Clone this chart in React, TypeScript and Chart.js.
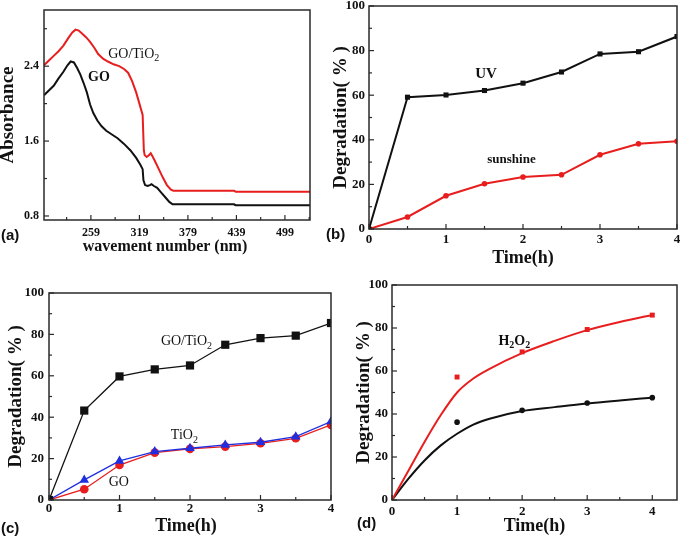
import React, { useEffect, useRef } from 'react';
import { Chart, registerables } from 'chart.js';
Chart.register(...registerables);

const SERIF = '"Liberation Serif", "Times New Roman", Times, serif';
const SANS = '"Liberation Sans", Arial, Helvetica, sans-serif';
const RED = '#e81e1e';
const BLACK = '#111111';
const BLUE = '#1f2fe0';

// ---------- Panel (a): UV-vis absorbance ----------
const wlGO = [201, 207, 213, 219, 225, 230, 234, 238, 242, 246, 250, 254, 258, 262, 267, 272, 278, 285, 292, 300, 308, 315, 320, 323, 324, 326, 329, 332, 334, 337, 341, 346, 351, 356, 360, 380, 400, 420, 436, 438, 460, 490, 530];
const absGO = [2.09, 2.14, 2.19, 2.27, 2.34, 2.41, 2.45, 2.44, 2.38, 2.31, 2.22, 2.12, 1.99, 1.9, 1.82, 1.76, 1.71, 1.67, 1.63, 1.57, 1.5, 1.42, 1.35, 1.3, 1.18, 1.13, 1.12, 1.13, 1.14, 1.12, 1.1, 1.05, 1.0, 0.95, 0.925, 0.925, 0.925, 0.925, 0.925, 0.915, 0.915, 0.915, 0.915];
const wlGOTiO2 = [201, 207, 213, 219, 225, 231, 236, 240, 244, 248, 253, 258, 263, 268, 274, 280, 287, 294, 300, 305, 310, 315, 319, 323, 324.5, 325.5, 328, 331, 333, 335, 338, 343, 348, 353, 358, 361, 400, 436, 438, 480, 530];
const absGOTiO2 = [2.41, 2.46, 2.51, 2.56, 2.62, 2.7, 2.76, 2.79, 2.78, 2.75, 2.71, 2.66, 2.6, 2.53, 2.48, 2.45, 2.42, 2.4, 2.37, 2.33, 2.24, 2.12, 2.0, 1.88, 1.5, 1.45, 1.43, 1.45, 1.47, 1.44, 1.39, 1.3, 1.21, 1.13, 1.08, 1.07, 1.07, 1.07, 1.06, 1.06, 1.06];
const aXTicks = [259, 319, 379, 439, 499];
const aXMinor = [229, 289, 349, 409, 469, 529];
const aYTicks = [0.8, 1.6, 2.4];
const aYMinor = [1.2, 2.0, 2.8];

// ---------- Panel (b): UV vs sunshine ----------
const timeB = [0, 0.5, 1, 1.5, 2, 2.5, 3, 3.5, 4];
const uvDeg = [0, 59.1, 60.1, 62.1, 65.4, 70.4, 78.5, 79.5, 86.3];
const sunDeg = [0, 5.4, 14.9, 20.3, 23.3, 24.3, 33.3, 38.2, 39.3];

// ---------- Panel (c): catalysts ----------
const timeC = [0, 0.5, 1, 1.5, 2, 2.5, 3, 3.5, 4];
const goTiO2Deg = [0, 43.2, 59.7, 63.1, 65.0, 75.0, 78.2, 79.4, 85.5];
const tiO2Deg = [0, 9.7, 18.9, 23.4, 25.0, 26.6, 27.9, 30.6, 37.9];
const goDeg = [0, 5.2, 16.9, 22.9, 24.7, 25.8, 27.4, 29.8, 36.3];

// ---------- Panel (d): H2O2 ----------
const timeD = [1, 2, 3, 4];
const h2o2Pts = [57.2, 68.9, 79.3, 86.0];
const plainPts = [36.2, 41.7, 45.1, 47.6];
const fitTime = [0, 0.25, 0.5, 0.75, 1, 1.25, 1.5, 2, 2.5, 3, 3.5, 4];
const h2o2Fit = [0, 13.5, 27, 39.5, 50, 56.5, 61, 68.3, 74, 79, 82.8, 86];
const plainFit = [0, 9.8, 18.4, 25.4, 30.8, 35.1, 37.8, 41.4, 43.2, 44.9, 46.3, 47.6];

const intTicks = [0, 1, 2, 3, 4];
const halfMinor = [0.5, 1.5, 2.5, 3.5];
const pctTicks = [0, 20, 40, 60, 80, 100];
const pctMinor = [10, 30, 50, 70, 90];

const pts = (xs: number[], ys: number[]) => xs.map((x, i) => ({ x, y: ys[i] }));

type Seg = { t: string; sub?: boolean };
type Ann = { x: number; y: number; segs: Seg[]; size: number; weight: string; color: string };

const framePlugin = {
  id: 'frame',
  afterDraw(chart: any, _a: any, opts: any) {
    const { ctx, chartArea: a, scales } = chart;
    const xs = scales.x, ys = scales.y;
    ctx.save();
    ctx.strokeStyle = '#2a2a2a';
    ctx.lineWidth = 1.5;
    ctx.strokeRect(a.left, a.top, a.right - a.left, a.bottom - a.top);
    ctx.lineWidth = 1.2;
    const xt = (v: number, len: number) => {
      const p = xs.getPixelForValue(v);
      if (p < a.left - 0.5 || p > a.right + 0.5) return;
      ctx.beginPath(); ctx.moveTo(p, a.bottom); ctx.lineTo(p, a.bottom - len); ctx.stroke();
    };
    const yt = (v: number, len: number) => {
      const p = ys.getPixelForValue(v);
      if (p < a.top - 0.5 || p > a.bottom + 0.5) return;
      ctx.beginPath(); ctx.moveTo(a.left, p); ctx.lineTo(a.left + len, p); ctx.stroke();
    };
    (opts.xMajor || []).forEach((v: number) => xt(v, 5));
    (opts.xMinor || []).forEach((v: number) => xt(v, 3));
    (opts.yMajor || []).forEach((v: number) => yt(v, 5));
    (opts.yMinor || []).forEach((v: number) => yt(v, 3));
    if (opts.xTitle) {
      const t = opts.xTitle;
      ctx.font = `bold ${t.size}px ${SERIF}`;
      ctx.fillStyle = '#111';
      ctx.textAlign = 'center';
      ctx.textBaseline = 'middle';
      ctx.fillText(t.text, (a.left + a.right) / 2 + t.dx, t.cy);
    }
    (opts.anns || []).forEach((an: Ann) => {
      const main = `${an.weight} ${an.size}px ${SERIF}`;
      const sub = `${an.weight} ${Math.round(an.size * 0.72)}px ${SERIF}`;
      let w = 0;
      an.segs.forEach((s) => { ctx.font = s.sub ? sub : main; w += ctx.measureText(s.t).width; });
      let x = xs.getPixelForValue(an.x) - w / 2;
      const y = ys.getPixelForValue(an.y);
      ctx.textBaseline = 'middle';
      ctx.textAlign = 'left';
      ctx.fillStyle = an.color;
      an.segs.forEach((s) => {
        ctx.font = s.sub ? sub : main;
        ctx.fillText(s.t, x, s.sub ? y + an.size * 0.32 : y);
        x += ctx.measureText(s.t).width;
      });
    });
    ctx.restore();
  },
};

type PanelCfg = {
  box: { l: number; t: number; r: number; b: number };
  yw: number; xh: number;
  xMin: number; xMax: number; yMin: number; yMax: number;
  xTicks: number[]; xMinor: number[]; yTicks: number[]; yMinor: number[];
  xFmt: (v: number) => string; yFmt: (v: number) => string;
  xTitle: string; yTitle: string;
  xTitleSize: number; xTitleCy: number; xTitleDx: number;
  yTitleSize: number; yTitleLH: number;
  tickSize: number; xPad: number; yPad: number;
  datasets: any[]; anns: Ann[];
};

const noPad = (s: any) => { s.paddingTop = 0; s.paddingBottom = 0; s.paddingLeft = 0; s.paddingRight = 0; };

function buildConfig(p: PanelCfg): any {
  const tickFont = { family: SERIF, size: p.tickSize, weight: 'bold', lineHeight: 1 };
  return {
    type: 'line',
    data: { datasets: p.datasets },
    plugins: [framePlugin],
    options: {
      animation: false,
      responsive: false,
      maintainAspectRatio: false,
      events: [],
      layout: { padding: { left: p.box.l - p.yw, top: p.box.t, right: 685 - p.box.r, bottom: 536 - p.box.b - p.xh } },
      plugins: {
        legend: { display: false },
        tooltip: { enabled: false },
        frame: {
          xMajor: p.xTicks, xMinor: p.xMinor, yMajor: p.yTicks, yMinor: p.yMinor, anns: p.anns,
          xTitle: { text: p.xTitle, size: p.xTitleSize, cy: p.xTitleCy, dx: p.xTitleDx },
        },
      },
      scales: {
        x: {
          type: 'linear', min: p.xMin, max: p.xMax,
          afterBuildTicks: (s: any) => { s.ticks = p.xTicks.map((v) => ({ value: v })); },
          afterFit: (s: any) => { s.height = p.xh; noPad(s); },
          grid: { display: false, drawTicks: false },
          border: { display: false },
          ticks: { font: tickFont, color: '#111', padding: p.xPad, maxRotation: 0, autoSkip: false, callback: (v: any) => p.xFmt(Number(v)) },
          title: { display: false },
        },
        y: {
          type: 'linear', min: p.yMin, max: p.yMax,
          afterBuildTicks: (s: any) => { s.ticks = p.yTicks.map((v) => ({ value: v })); },
          afterFit: (s: any) => { s.width = p.yw; noPad(s); },
          grid: { display: false, drawTicks: false },
          border: { display: false },
          ticks: { font: tickFont, color: '#111', padding: p.yPad, autoSkip: false, callback: (v: any) => p.yFmt(Number(v)) },
          title: { display: true, text: p.yTitle, color: '#111', font: { family: SERIF, size: p.yTitleSize, weight: 'bold', lineHeight: p.yTitleLH }, padding: { top: 0, bottom: 0 } },
        },
      },
    },
  };
}

const lineDs = (data: any[], color: string, width: number, extra: any = {}) => ({
  data, borderColor: color, backgroundColor: color, borderWidth: width,
  pointRadius: 0, pointHoverRadius: 0, tension: 0, ...extra,
});
const markDs = (data: any[], color: string, width: number, style: string, r: number, extra: any = {}) => ({
  data, borderColor: color, backgroundColor: color, borderWidth: width,
  pointStyle: style, pointRadius: r, pointBorderWidth: 0, pointBackgroundColor: color, tension: 0, ...extra,
});

const intFmt = (v: number) => String(Math.round(v));

const panelA: PanelCfg = {
  box: { l: 44, t: 10, r: 310, b: 220 }, yw: 44, xh: 40,
  xMin: 201, xMax: 530, yMin: 0.757, yMax: 3.0,
  xTicks: aXTicks, xMinor: aXMinor, yTicks: aYTicks, yMinor: aYMinor,
  xFmt: intFmt, yFmt: (v) => v.toFixed(1),
  xTitle: 'wavement number (nm)', yTitle: 'Absorbance',
  xTitleSize: 16, xTitleCy: 247, xTitleDx: -12,
  yTitleSize: 19, yTitleLH: 0.8,
  tickSize: 12, xPad: 7, yPad: 5,
  datasets: [
    lineDs(pts(wlGOTiO2, absGOTiO2), RED, 2),
    lineDs(pts(wlGO, absGO), BLACK, 2),
  ],
  anns: [
    { x: 312, y: 2.53, segs: [{ t: 'GO/TiO' }, { t: '2', sub: true }], size: 14, weight: 'normal', color: '#111' },
    { x: 269, y: 2.28, segs: [{ t: 'GO' }], size: 14, weight: 'bold', color: '#111' },
  ],
};

const panelB: PanelCfg = {
  box: { l: 369, t: 6, r: 677, b: 229 }, yw: 37, xh: 40,
  xMin: 0, xMax: 4, yMin: 0, yMax: 100,
  xTicks: intTicks, xMinor: halfMinor, yTicks: pctTicks, yMinor: pctMinor,
  xFmt: intFmt, yFmt: intFmt,
  xTitle: 'Time(h)', yTitle: 'Degradation( % )',
  xTitleSize: 18, xTitleCy: 258.5, xTitleDx: 0,
  yTitleSize: 19, yTitleLH: 1,
  tickSize: 13, xPad: 4, yPad: 4,
  datasets: [
    markDs(pts(timeB, uvDeg), BLACK, 2, 'rect', 3.6),
    markDs(pts(timeB, sunDeg), RED, 2, 'circle', 2.8),
  ],
  anns: [
    { x: 1.52, y: 69.6, segs: [{ t: 'UV' }], size: 15, weight: 'bold', color: '#111' },
    { x: 1.85, y: 31, segs: [{ t: 'sunshine' }], size: 13, weight: 'bold', color: '#111' },
  ],
};

const panelC: PanelCfg = {
  box: { l: 49, t: 293, r: 331, b: 500 }, yw: 42, xh: 36,
  xMin: 0, xMax: 4, yMin: 0, yMax: 100,
  xTicks: intTicks, xMinor: halfMinor, yTicks: pctTicks, yMinor: pctMinor,
  xFmt: intFmt, yFmt: intFmt,
  xTitle: 'Time(h)', yTitle: 'Degradation( % )',
  xTitleSize: 18, xTitleCy: 526.5, xTitleDx: -4,
  yTitleSize: 19, yTitleLH: 1,
  tickSize: 13, xPad: 2, yPad: 5,
  datasets: [
    markDs(pts(timeC, goTiO2Deg), BLACK, 1.3, 'rect', 5.8),
    markDs(pts(timeC, tiO2Deg), BLUE, 1.3, 'triangle', 5.5),
    markDs(pts(timeC, goDeg), RED, 1.3, 'circle', 4.3),
  ],
  anns: [
    { x: 1.95, y: 76.6, segs: [{ t: 'GO/TiO' }, { t: '2', sub: true }], size: 14, weight: 'normal', color: '#111' },
    { x: 1.92, y: 31.1, segs: [{ t: 'TiO' }, { t: '2', sub: true }], size: 14, weight: 'normal', color: '#111' },
    { x: 0.99, y: 8.5, segs: [{ t: 'GO' }], size: 14, weight: 'normal', color: '#111' },
  ],
};

const panelD: PanelCfg = {
  box: { l: 392, t: 285, r: 677, b: 500 }, yw: 37.5, xh: 36,
  xMin: 0, xMax: 4.38, yMin: 0, yMax: 100,
  xTicks: intTicks, xMinor: halfMinor, yTicks: pctTicks, yMinor: pctMinor,
  xFmt: intFmt, yFmt: intFmt,
  xTitle: 'Time(h)', yTitle: 'Degradation( % )',
  xTitleSize: 18, xTitleCy: 526.5, xTitleDx: 0,
  yTitleSize: 19, yTitleLH: 1,
  tickSize: 13, xPad: 5, yPad: 4,
  datasets: [
    lineDs(pts(fitTime, h2o2Fit), RED, 2, { cubicInterpolationMode: 'monotone' }),
    lineDs(pts(fitTime, plainFit), BLACK, 2, { cubicInterpolationMode: 'monotone' }),
    markDs(pts(timeD, h2o2Pts), RED, 0, 'rect', 3.5, { showLine: false }),
    markDs(pts(timeD, plainPts), BLACK, 0, 'circle', 2.8, { showLine: false }),
  ],
  anns: [
    { x: 1.88, y: 74, segs: [{ t: 'H' }, { t: '2', sub: true }, { t: 'O' }, { t: '2', sub: true }], size: 14, weight: 'bold', color: '#111' },
  ],
};

const panelLabels = [
  { text: '(a)', x: 1, y: 234 },
  { text: '(b)', x: 326, y: 233 },
  { text: '(c)', x: 1, y: 527 },
  { text: '(d)', x: 357, y: 522 },
];

function Panel({ cfg }: { cfg: PanelCfg }) {
  const ref = useRef<HTMLCanvasElement>(null);
  useEffect(() => {
    const chart = new Chart(ref.current as HTMLCanvasElement, buildConfig(cfg));
    return () => chart.destroy();
  }, []);
  return (
    <canvas ref={ref} width={685} height={536}
      style={{ position: 'absolute', left: 0, top: 0, width: 685, height: 536 }} />
  );
}

export default function App() {
  useEffect(() => {
    document.body.style.margin = '0';
  }, []);
  return (
    <div style={{ position: 'fixed', left: 0, top: 0, width: 685, height: 536, background: '#fff', overflow: 'hidden' }}>
      <Panel cfg={panelA} />
      <Panel cfg={panelB} />
      <Panel cfg={panelC} />
      <Panel cfg={panelD} />
      {panelLabels.map((l) => (
        <div key={l.text} style={{
          position: 'absolute', left: l.x, top: l.y, transform: 'translateY(-50%)',
          font: `bold 15px ${SANS}`, color: '#111', lineHeight: '15px',
        }}>{l.text}</div>
      ))}
    </div>
  );
}
